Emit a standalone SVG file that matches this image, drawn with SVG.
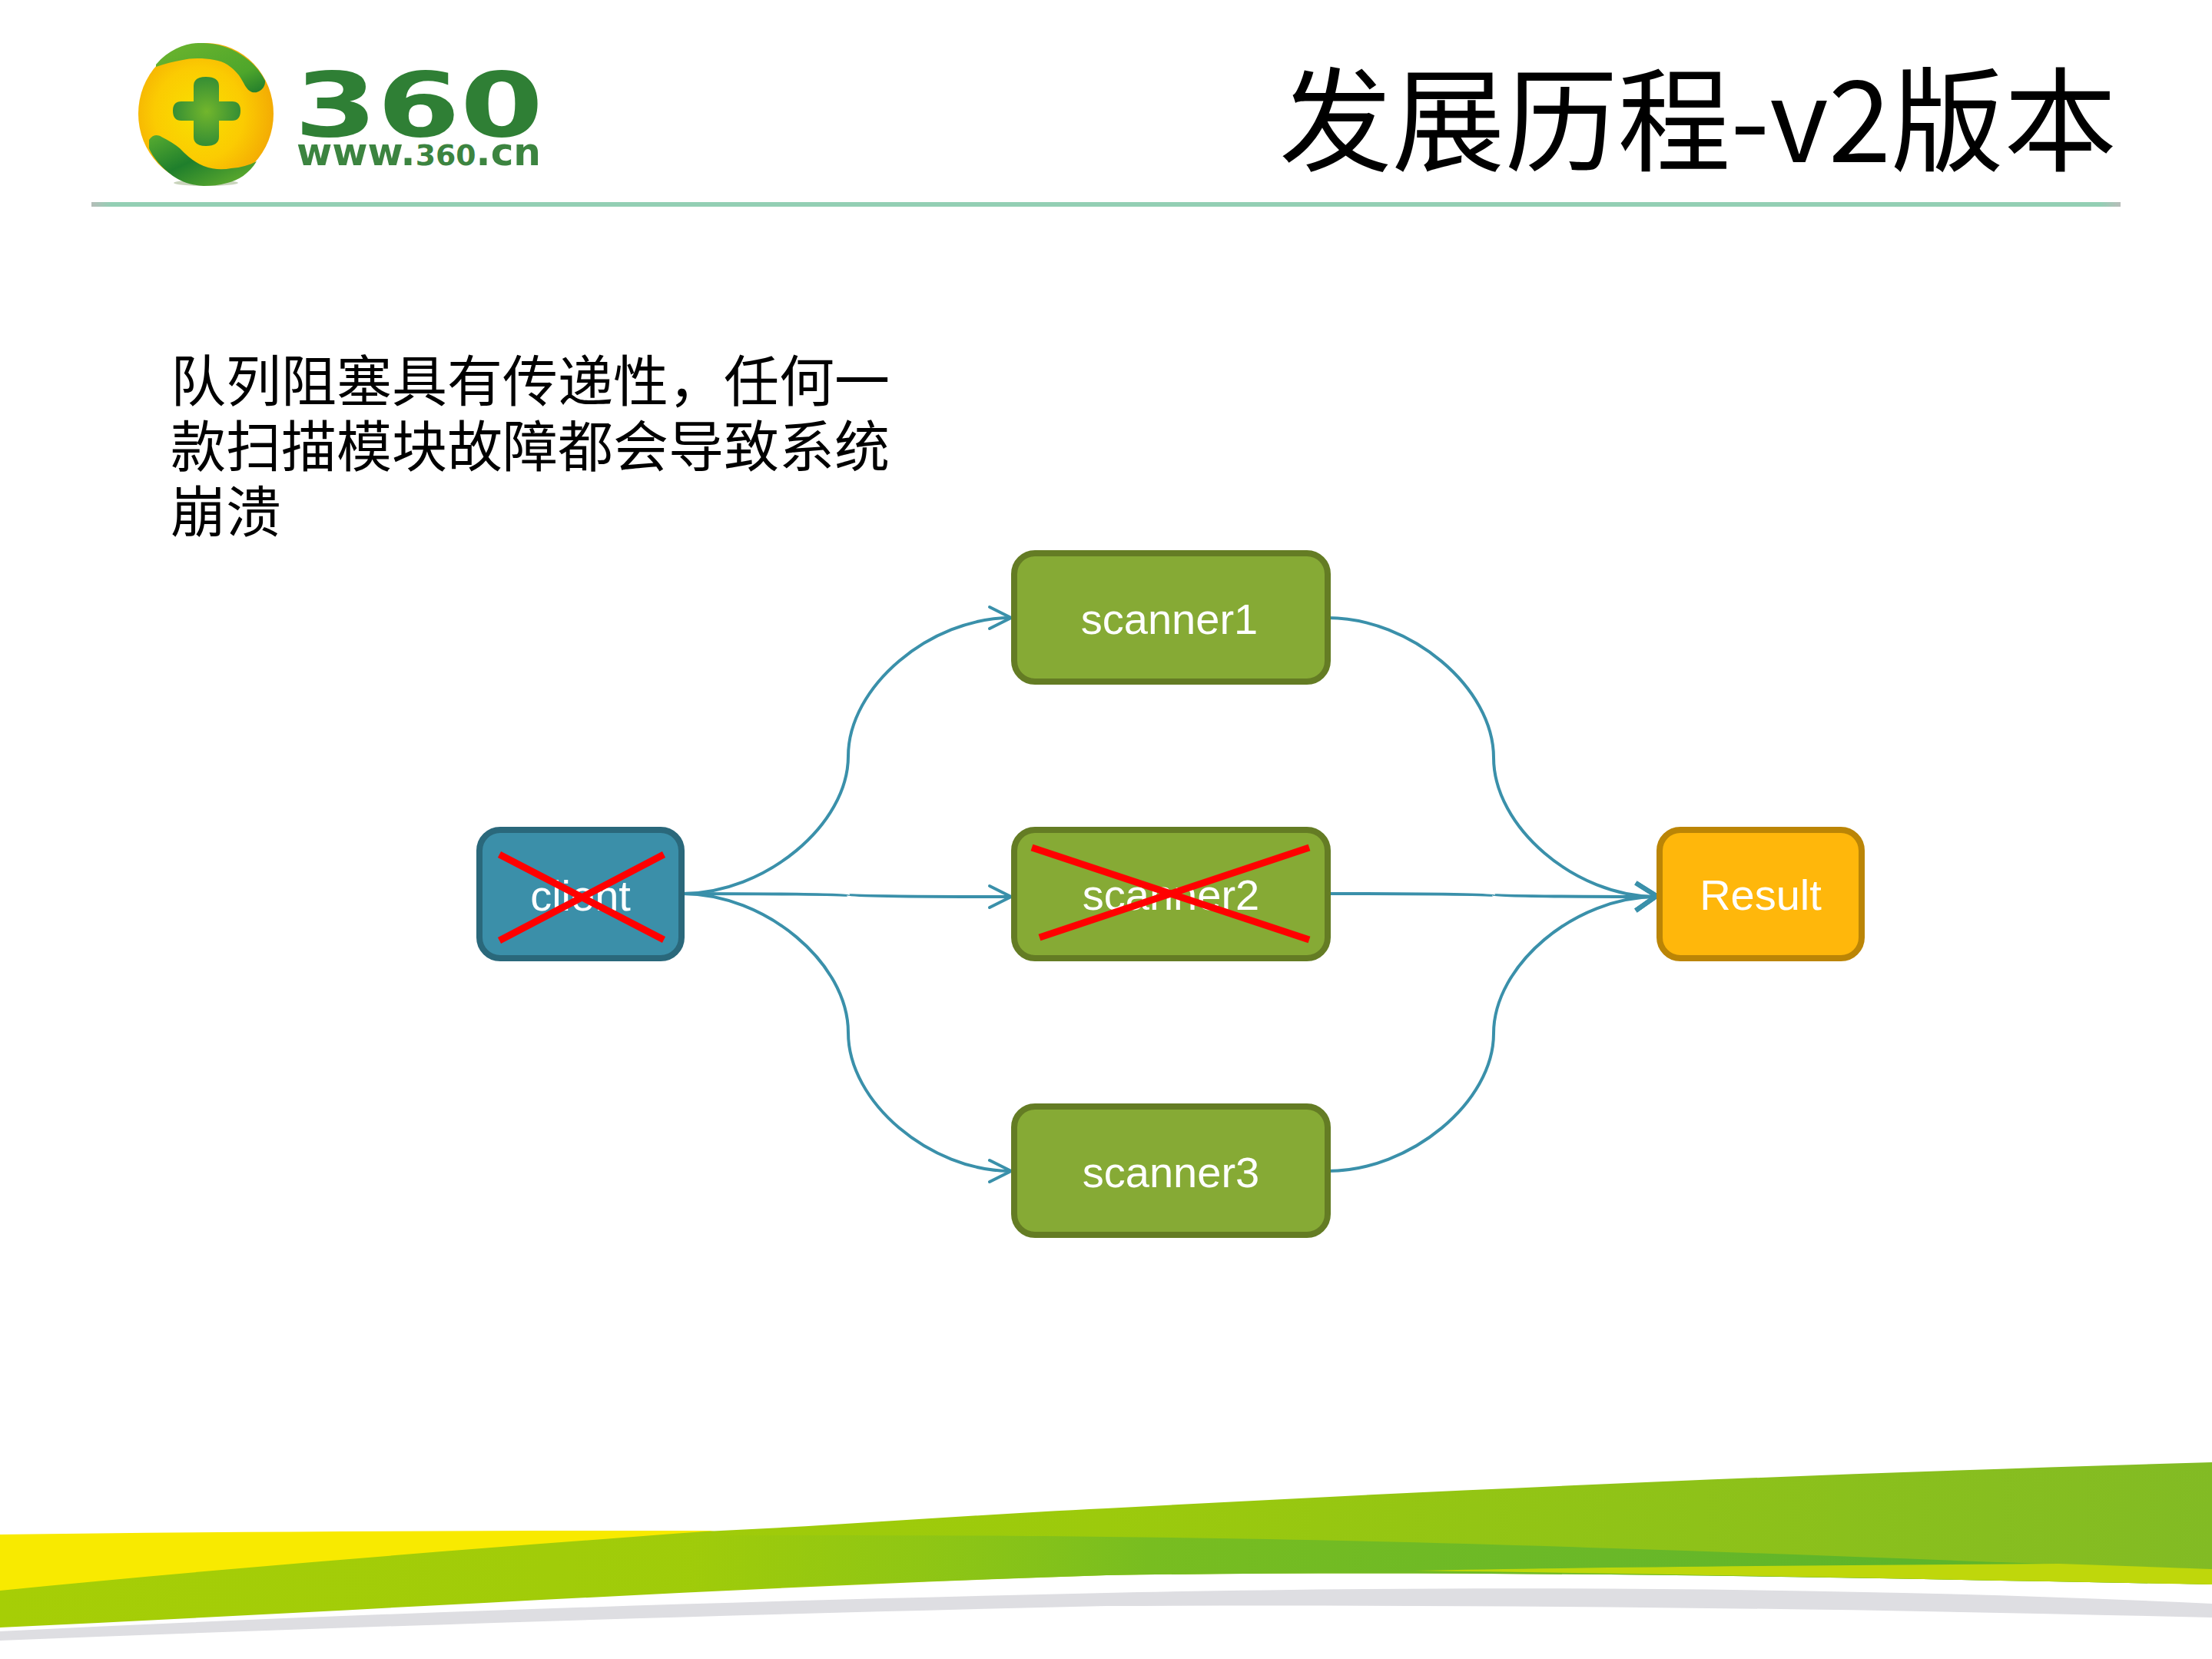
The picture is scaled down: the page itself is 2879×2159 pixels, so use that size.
<svg xmlns="http://www.w3.org/2000/svg" width="2879" height="2159" viewBox="0 0 2879 2159">
<style>
.box{stroke-width:8}
.blue{fill:#3B8FA9;stroke:#2A687B}
.green{fill:#86AA35;stroke:#647C24}
.amber{fill:#FFB70B;stroke:#BB8506}
.lbl{font-family:"Liberation Sans",Arial,sans-serif;font-size:56px;fill:#fff;text-anchor:middle}
.conn{fill:none;stroke:#3A90AA;stroke-width:4;stroke-linecap:round;marker-end:url(#arrow)}
.into-result{marker-end:url(#arrow-bold)}
.cross{stroke:#FF0000;stroke-width:9;fill:none}
.title{font-family:"Noto Sans CJK SC","Noto Sans",sans-serif;font-size:147px;fill:#000}
.body{font-family:"Noto Sans CJK SC",sans-serif;font-size:72px;font-weight:400;fill:#000}
</style>
<defs>
<marker id="arrow" markerUnits="userSpaceOnUse" markerWidth="40" markerHeight="40" refX="32" refY="20" orient="auto" overflow="visible">
<path d="M4,6 L32,20 L4,34" fill="none" stroke="#3A90AA" stroke-width="4" stroke-linecap="round" stroke-linejoin="round"/>
</marker>
<marker id="arrow-bold" markerUnits="userSpaceOnUse" markerWidth="40" markerHeight="44" refX="32" refY="22" orient="0" overflow="visible">
<path d="M5,4 L32,21 L5,40" fill="none" stroke="#3A90AA" stroke-width="6" stroke-linejoin="round"/>
</marker>
<linearGradient id="rule" x1="0" x2="1" y1="0" y2="0">
<stop offset="0" stop-color="#B4BDB8"/><stop offset="0.01" stop-color="#93CFB4"/><stop offset="0.99" stop-color="#93CFB4"/><stop offset="1" stop-color="#B8BDBA"/>
</linearGradient>
<linearGradient id="band" gradientUnits="userSpaceOnUse" x1="0" y1="0" x2="2879" y2="0">
<stop offset="0" stop-color="#A6CE06"/><stop offset="0.5" stop-color="#9CCA0C"/><stop offset="1" stop-color="#82BB24"/>
</linearGradient>
<linearGradient id="stripe" gradientUnits="userSpaceOnUse" x1="900" y1="0" x2="2879" y2="0">
<stop offset="0" stop-color="#8CC516" stop-opacity="0"/><stop offset="0.15" stop-color="#8CC516" stop-opacity="0.8"/><stop offset="0.3" stop-color="#78BD20"/><stop offset="0.6" stop-color="#6AB828"/><stop offset="0.8" stop-color="#5DB52A"/><stop offset="1" stop-color="#6CB82A"/>
</linearGradient>
<radialGradient id="egg" cx="0.45" cy="0.5" r="0.6">
<stop offset="0" stop-color="#F8E000"/><stop offset="0.55" stop-color="#FBCB02"/><stop offset="1" stop-color="#F2A404"/>
</radialGradient>
<radialGradient id="plus" cx="0.5" cy="0.5" r="0.55">
<stop offset="0" stop-color="#72B62C"/><stop offset="1" stop-color="#2F8A35"/>
</radialGradient>
<linearGradient id="leaf" x1="0" y1="0" x2="1" y2="1">
<stop offset="0" stop-color="#6DB52E"/><stop offset="0.7" stop-color="#4EA62B"/><stop offset="1" stop-color="#1F7A2C"/>
</linearGradient>
<linearGradient id="leaf2" x1="0" y1="0" x2="1" y2="1">
<stop offset="0" stop-color="#58AC30"/><stop offset="0.45" stop-color="#1F7F2C"/><stop offset="1" stop-color="#6DB52E"/>
</linearGradient>
</defs>
<rect width="2879" height="2159" fill="#fff"/>

<g id="logo">
<ellipse cx="268" cy="238" rx="42" ry="4" fill="#C9D4BC"/>
<ellipse cx="268" cy="148" rx="88" ry="92" fill="url(#egg)"/>
<path d="M203,84 C222,62 245,55 265,56 C300,57 332,78 345,105 C346,114 337,122 328,120 C320,117 318,108 311,98 C301,86 292,80 279,78 C262,75 248,76 238,78 C226,80 214,83 203,87 Z" fill="url(#leaf)"/>
<path d="M194,182 C199,175 205,175 210,178 C220,183 228,188 234,193 C245,205 255,212 265,216 C278,221 290,221 301,219 C314,218 324,215 334,210 C324,226 310,235 296,238 C285,241 275,242 265,242 C248,241 235,236 225,229 C210,218 199,205 194,193 Z" fill="url(#leaf2)"/>
<path d="M252,112 Q252,100 268,100 Q285,100 285,112 L285,132 L302,132 Q313,132 313,144 Q313,157 302,157 L285,157 L285,178 Q285,190 268,190 Q252,190 252,178 L252,157 L236,157 Q225,157 225,144 Q225,132 236,132 L252,132 Z" fill="url(#plus)"/>
<text x="383" y="177" font-family="DejaVu Sans" font-weight="700" font-size="116" fill="#2F7F35" textLength="324" lengthAdjust="spacingAndGlyphs">360</text>
<text x="386" y="215" font-family="DejaVu Sans" font-weight="700" fill="#3C8440" textLength="318" lengthAdjust="spacingAndGlyphs" font-size="49">www.<tspan font-size="37">360</tspan>.cn</text>
</g>

<text id="title" class="title" x="1665" y="211" textLength="1090" lengthAdjust="spacingAndGlyphs">发展历程-v2版本</text>
<rect id="header-rule" x="119" y="263" width="2641" height="6" fill="url(#rule)"/>

<text id="description" class="body"><tspan x="222" y="522">队列阻塞具有传递性，任何一</tspan><tspan x="222" y="607">款扫描模块故障都会导致系统</tspan><tspan x="222" y="692">崩溃</tspan></text>

<g id="connectors">
<path class="conn" d="M888,1163 C996,1163 1104,1073 1104,984 C1104,894 1210,804 1316,804"/>
<path class="conn" d="M888,1163 C996,1163 1104,1164 1104,1165 C1104,1166 1210,1167 1316,1167"/>
<path class="conn" d="M888,1163 C996,1163 1104,1253 1104,1344 C1104,1434 1210,1524 1316,1524"/>
<path class="conn into-result" d="M1728,804 C1836,804 1944,895 1944,986 C1944,1076 2050,1167 2156,1167"/>
<path class="conn into-result" d="M1728,1163 C1836,1163 1944,1164 1944,1165 C1944,1166 2050,1167 2156,1167"/>
<path class="conn into-result" d="M1728,1524 C1836,1524 1944,1434 1944,1345 C1944,1256 2050,1167 2156,1167"/>
</g>

<g id="client">
<rect class="box blue" x="624" y="1080" width="263" height="167" rx="27"/>
<text class="lbl" x="755.5" y="1185">client</text>
<path class="cross" d="M650,1112 L864,1223 M650,1224 L864,1112"/>
</g>
<g id="scanner1">
<rect class="box green" x="1320" y="720" width="408" height="167" rx="27"/>
<text class="lbl" x="1522" y="825">scanner1</text>
</g>
<g id="scanner2">
<rect class="box green" x="1320" y="1080" width="408" height="167" rx="27"/>
<text class="lbl" x="1524" y="1184">scanner2</text>
<path class="cross" d="M1343,1103 L1704,1223 M1353,1220 L1704,1103"/>
</g>
<g id="scanner3">
<rect class="box green" x="1320" y="1440" width="408" height="167" rx="27"/>
<text class="lbl" x="1524" y="1545">scanner3</text>
</g>
<g id="result">
<rect class="box amber" x="2160" y="1080" width="263" height="167" rx="27"/>
<text class="lbl" x="2291.5" y="1184">Result</text>
</g>

<g id="footer-band">
<path d="M0,2123 C459,2100 918,2085 1440,2073 C1800,2065 2358,2062 2879,2087 L2879,2105 C2358,2092 1899,2088 1440,2090 C918,2102 459,2117 0,2135 Z" fill="#DEDEE2"/>
<path d="M0,1997 C300,1993 600,1992 930,1992 L500,2060 L0,2072 Z" fill="#F8EA00"/>
<path d="M0,2070 C300,2040 620,2015 918,1993 C1100,1985 1250,1972 1440,1963 C1899,1938 2358,1918 2879,1903 L2879,2062 C2358,2052 1899,2043 1440,2050 C918,2067 459,2097 0,2118 Z" fill="url(#band)"/>
<path d="M900,1998 C1100,1998 1300,1998 1440,2000 C1650,2002 1899,2008 2100,2015 C2358,2023 2650,2036 2879,2042 L2879,2062 C2358,2052 1899,2043 1440,2050 C1260,2056 1080,2062 900,2070 Z" fill="url(#stripe)"/>
<path d="M1840,2044 C2050,2040 2358,2037 2680,2035 L2879,2042 L2879,2062 C2500,2055 2150,2048 1840,2044 Z" fill="#BFD70B"/>
</g>
</svg>
